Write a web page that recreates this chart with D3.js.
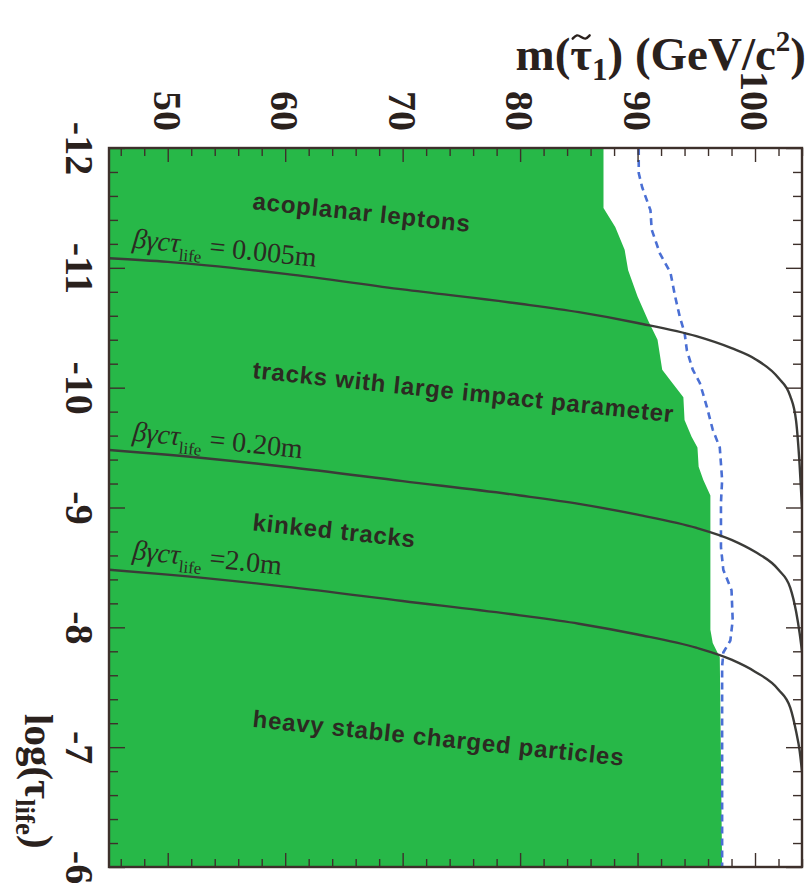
<!DOCTYPE html>
<html>
<head>
<meta charset="utf-8">
<script src="https://cdn.jsdelivr.net/npm/d3@7"></script>
<style>
  html, body { margin: 0; padding: 0; background: #ffffff; }
  svg { display: block; }
</style>
</head>
<body>
<svg id="chart" width="809" height="885"></svg>
<script>
// ---------------- data ----------------
const massTickValues = [50, 60, 70, 80, 90, 100];
const massTickLabels = ["50", "60", "70", "80", "90", "100"];
const logTickValues = [-12, -11, -10, -9, -8, -7, -6];
const logTickLabels = ["-12", "-11", "-10", "-9", "-8", "-7", "-6"];

// excluded (green) region: right boundary, mass vs log(tau)
const boundaryLog  = [-12, -11.50, -11.34, -11.15, -10.98, -10.76, -10.56, -10.40, -10.15, -10.06, -9.92, -9.73, -9.59, -9.50, -9.34, -9.23, -9.10, -7.98, -7.87, -7.75, -6.0];
const boundaryMass = [87.1, 87.1, 88.1, 88.9, 89.2, 90.0, 90.9, 91.7, 92.1, 92.8, 93.9, 94.0, 94.6, 95.1, 95.2, 95.6, 96.2, 96.2, 96.4, 97.0, 97.2];

// expected limit (blue dashed)
const expectedLog  = [-12, -11.79, -11.67, -11.48, -11.32, -11.12, -10.96, -10.76, -10.59, -10.46, -10.31, -10.15, -10.04, -9.84, -9.65, -9.50, -9.23, -9.04, -8.67, -8.48, -8.31, -8.06, -7.89, -7.79, -7.67, -6.0];
const expectedMass = [90.1, 90.1, 90.4, 91.1, 91.2, 91.9, 92.8, 93.2, 93.6, 94.0, 94.2, 94.7, 95.3, 95.9, 96.4, 97.0, 97.2, 97.1, 97.1, 97.3, 98.0, 98.1, 97.9, 97.3, 97.2, 97.2];

// constant decay length curves
const curveMass = [45, 50, 60, 70, 80, 85, 90, 95, 98, 100, 102, 103, 103.5, 103.8, 104];
const curve005Log = [-11.08, -11.05, -10.95, -10.82, -10.70, -10.63, -10.54, -10.43, -10.33, -10.24, -10.08, -9.93, -9.72, -9.35, -9.0];
const curve020Log = [-9.48, -9.44, -9.34, -9.22, -9.10, -9.03, -8.94, -8.83, -8.73, -8.63, -8.48, -8.33, -8.13, -7.95, -7.80];
const curve200Log = [-8.48, -8.44, -8.34, -8.22, -8.10, -8.03, -7.94, -7.83, -7.73, -7.63, -7.48, -7.33, -7.13, -6.97, -6.80];

const regionLabels = ["acoplanar leptons", "tracks with large impact parameter", "kinked tracks", "heavy stable charged particles"];
const regionLabelLog = [-11.49, -10.08, -8.81, -7.17];
const curveLabelValues = ["= 0.005m", "= 0.20m", "=2.0m"];
const curveLabelLog = [-11.17, -9.56, -8.57];

// ---------------- drawing ----------------
const svg = d3.select("#chart");
const L = 109, R = 802, T = 148, B = 867;
const x = d3.scaleLinear().domain([45, 104]).range([L, R]);
const y = d3.scaleLinear().domain([-12, -6]).range([T, B]);

const green = "#27b848";
const ink = "#3d302b";

svg.append("defs").append("clipPath").attr("id", "plotclip")
  .append("rect").attr("x", L).attr("y", T).attr("width", R - L).attr("height", B - T);

const plot = svg.append("g").attr("clip-path", "url(#plotclip)");

// green excluded area
const boundary = boundaryLog.map((v, i) => ({ l: v, m: boundaryMass[i] }));
plot.append("path")
  .datum(boundary)
  .attr("fill", green)
  .attr("d", d3.area().y(d => y(d.l)).x0(x(45)).x1(d => x(d.m)));

// expected dashed line
const expected = expectedLog.map((v, i) => ({ l: v, m: expectedMass[i] }));
plot.append("path")
  .datum(expected)
  .attr("fill", "none")
  .attr("stroke", "#4a6fd4")
  .attr("stroke-width", 2.6)
  .attr("stroke-dasharray", "7,5")
  .attr("d", d3.line().x(d => x(d.m)).y(d => y(d.l)).curve(d3.curveLinear));

// decay-length curves
[curve005Log, curve020Log, curve200Log].forEach(arr => {
  const pts = curveMass.map((m, i) => ({ m: m, l: arr[i] }));
  plot.append("path")
    .datum(pts)
    .attr("fill", "none")
    .attr("stroke", "#3b3b38")
    .attr("stroke-width", 2.4)
    .attr("d", d3.line().x(d => x(d.m)).y(d => y(d.l)).curve(d3.curveMonotoneX));
});

// ticks on all four sides (inward)
const massMinor = d3.range(46, 104.01, 2).filter(v => v % 10 !== 0);
const logMinor = d3.range(-12, -5.99, 0.2).map(v => +v.toFixed(1)).filter(v => Math.abs(v - Math.round(v)) > 1e-6);

function styleAxis(g) {
  g.select(".domain").remove();
  g.selectAll(".tick line").attr("stroke", ink).attr("stroke-width", 1.4);
  g.selectAll(".tick text").remove();
}
svg.append("g").attr("transform", `translate(0,${B})`).call(d3.axisBottom(x).tickValues(massTickValues).tickSize(-14)).call(styleAxis);
svg.append("g").attr("transform", `translate(0,${B})`).call(d3.axisBottom(x).tickValues(massMinor).tickSize(-8)).call(styleAxis);
svg.append("g").attr("transform", `translate(0,${T})`).call(d3.axisTop(x).tickValues(massTickValues).tickSize(-14)).call(styleAxis);
svg.append("g").attr("transform", `translate(0,${T})`).call(d3.axisTop(x).tickValues(massMinor).tickSize(-8)).call(styleAxis);
svg.append("g").attr("transform", `translate(${L},0)`).call(d3.axisLeft(y).tickValues(logTickValues).tickSize(-16)).call(styleAxis);
svg.append("g").attr("transform", `translate(${L},0)`).call(d3.axisLeft(y).tickValues(logMinor).tickSize(-9)).call(styleAxis);
svg.append("g").attr("transform", `translate(${R},0)`).call(d3.axisRight(y).tickValues(logTickValues).tickSize(-16)).call(styleAxis);
svg.append("g").attr("transform", `translate(${R},0)`).call(d3.axisRight(y).tickValues(logMinor).tickSize(-9)).call(styleAxis);

// frame
svg.append("rect").attr("x", L).attr("y", T).attr("width", R - L).attr("height", B - T)
  .attr("fill", "none").attr("stroke", ink).attr("stroke-width", 2.4);

// tick labels (rotated, as in the reference)
const serif = "'Liberation Serif', 'Times New Roman', serif";
const topLabels = svg.append("g").attr("transform", "translate(0,131)")
  .call(d3.axisTop(x).tickValues(massTickValues).tickSize(0).tickPadding(0).tickFormat((d, i) => massTickLabels[i]));
topLabels.select(".domain").remove();
topLabels.selectAll(".tick text")
  .attr("x", 0).attr("y", 0).attr("dy", "0.36em")
  .attr("transform", "rotate(90)")
  .attr("text-anchor", "end")
  .attr("fill", "#2a211d")
  .style("font-family", serif).style("font-weight", "bold").style("font-size", "40px");

const leftLabels = svg.append("g").attr("transform", "translate(80,0)")
  .call(d3.axisLeft(y).tickValues(logTickValues).tickSize(0).tickPadding(0).tickFormat((d, i) => logTickLabels[i]));
leftLabels.select(".domain").remove();
leftLabels.selectAll(".tick text")
  .attr("x", 0).attr("y", 0).attr("dy", "0.36em")
  .attr("transform", "rotate(90)")
  .attr("text-anchor", "middle")
  .attr("fill", "#2a211d")
  .style("font-family", serif).style("font-weight", "bold").style("font-size", "40px");

// axis titles
const title = svg.append("text")
  .attr("x", 806).attr("y", 70)
  .attr("text-anchor", "end")
  .attr("fill", "#2a211d")
  .style("font-family", serif).style("font-weight", "bold").style("font-size", "47px");
title.append("tspan").text("m(");
title.append("tspan").text("τ");
title.append("tspan").attr("dy", 10).style("font-size", "31px").text("1");
title.append("tspan").attr("dy", -10).text(") (GeV/c");
title.append("tspan").attr("dy", -19).style("font-size", "29px").text("2");
title.append("tspan").attr("dy", 19).text(")");
// tilde accent above tau (drawn as a small stroke)
(function () {
  const ext = title.node().getExtentOfChar(2);
  const cx = ext.x + ext.width / 2, cy = 37, w = 17, a = 2.8;
  const pts = [[-w / 2, a * 0.6], [-w / 4, -a], [0, 0], [w / 4, a], [w / 2, -a * 0.6]];
  svg.append("path")
    .attr("d", d3.line().x(p => cx + p[0]).y(p => cy + p[1]).curve(d3.curveBasis)(pts))
    .attr("fill", "none").attr("stroke", "#2a211d").attr("stroke-width", 2.4).attr("stroke-linecap", "round");
})();

const ytitle = svg.append("text")
  .attr("transform", "translate(25,714) rotate(90)")
  .attr("fill", "#2a211d")
  .style("font-family", serif).style("font-weight", "bold").style("font-size", "41px");
ytitle.append("tspan").text("log(τ");
ytitle.append("tspan").attr("dy", 9).style("font-size", "27px").text("life");
ytitle.append("tspan").attr("dy", -9).text(")");

// region labels (slightly tilted, as scanned)
const sans = "'Liberation Sans', Arial, Helvetica, sans-serif";
const angle = 6;
regionLabels.forEach((t, i) => {
  svg.append("text")
    .attr("transform", `translate(252,${y(regionLabelLog[i])}) rotate(${angle})`)
    .attr("fill", "#2c2a22")
    .style("font-family", sans).style("font-weight", "bold").style("font-size", "24px")
    .style("letter-spacing", "0.8px")
    .text(t);
});

// decay-length labels
curveLabelValues.forEach((t, i) => {
  const g = svg.append("text")
    .attr("transform", `translate(132,${y(curveLabelLog[i])}) rotate(${angle})`)
    .attr("fill", "#2c2a22")
    .style("font-family", serif).style("font-size", "28px");
  g.append("tspan").style("font-style", "italic").text("βγcτ");
  g.append("tspan").attr("dy", 8).style("font-size", "17px").text("life");
  g.append("tspan").attr("dy", -8).text(" " + t);
});
</script>
</body>
</html>
